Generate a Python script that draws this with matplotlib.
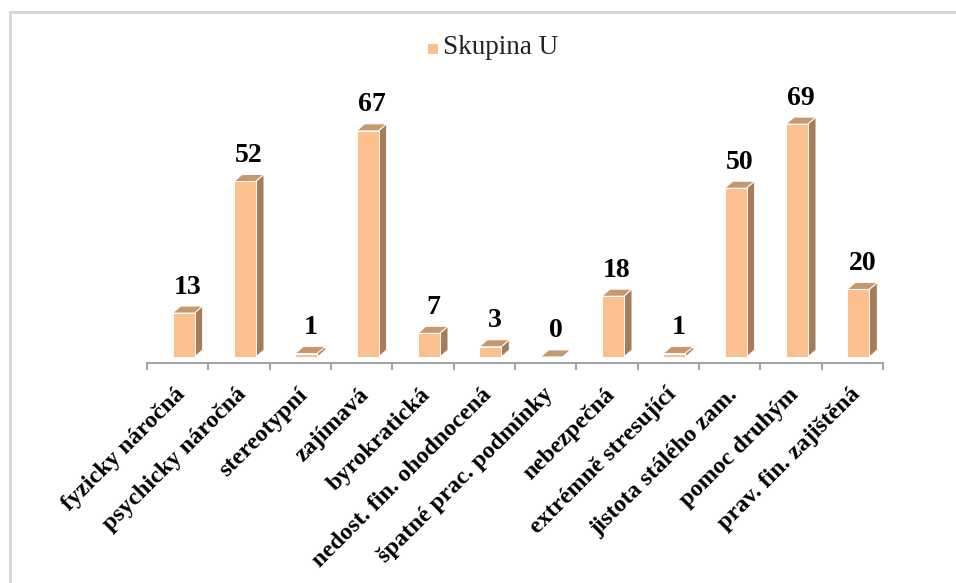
import matplotlib
matplotlib.use("Agg")
import matplotlib.pyplot as plt
from matplotlib.patches import Polygon, Rectangle
from matplotlib.lines import Line2D
from matplotlib.transforms import blended_transform_factory, offset_copy

categories = [
    "fyzicky náročná", "psychicky náročná", "stereotypní", "zajímavá",
    "byrokratická", "nedost. fin. ohodnocená", "špatné prac. podmínky",
    "nebezpečná", "extrémně stresující", "jistota stálého zam.",
    "pomoc druhým", "prav. fin. zajištěná",
]
values = [13, 52, 1, 67, 7, 3, 0, 18, 1, 50, 69, 20]
series_name = "Skupina U"

FRONT = "#FBC08E"
TOP = "#C8976E"
SIDE = "#A67D5C"
SERIF = ["Liberation Serif", "DejaVu Serif"]

W, H, DPI = 956, 583, 100
fig = plt.figure(figsize=(W / DPI, H / DPI), dpi=DPI)

# plot area in pixels
ax_l, ax_r, ax_b, ax_t = 147, 883, 363, 87
ax = fig.add_axes([ax_l / W, (H - ax_b) / H, (ax_r - ax_l) / W, (ax_b - ax_t) / H])
ymin, ymax = -1.8, 80
n = len(categories)
ax.set_xlim(0, n)
ax.set_ylim(ymin, ymax)

px_x = (ax_r - ax_l) / n            # pixels per category
px_y = (ax_b - ax_t) / (ymax - ymin)  # pixels per value unit

wf = 22 / px_x      # front face width
shift = 6 / px_x    # front face offset from category centre
dx = 8 / px_x       # depth offset (x)
dy = 7 / px_y       # depth offset (y)

for i, v in enumerate(values):
    x0 = i + 0.5 + shift - wf / 2
    x1 = x0 + wf
    top = Polygon([(x0, v), (x1, v), (x1 + dx, v + dy), (x0 + dx, v + dy)],
                  closed=True, facecolor=TOP, edgecolor="white", lw=0.7, zorder=3)
    ax.add_patch(top)
    if v > 0:
        side = Polygon([(x1, 0), (x1 + dx, dy), (x1 + dx, v + dy), (x1, v)],
                       closed=True, facecolor=SIDE, edgecolor="white", lw=0.7, zorder=3)
        front = Rectangle((x0, 0), wf, v, facecolor=FRONT, edgecolor="white",
                          lw=0.7, zorder=4)
        ax.add_patch(side)
        ax.add_patch(front)
    ax.text(x0 + (wf + dx) / 2, v + 26 / px_y, str(v), ha="center", va="center",
            fontsize=20, fontweight="bold", family=SERIF, color="black", zorder=5)

# category axis
for s in ["left", "right", "top"]:
    ax.spines[s].set_visible(False)
ax.spines["bottom"].set_color("#A6A6A6")
ax.spines["bottom"].set_linewidth(1.5)
ax.set_xticks(range(n + 1))
ax.set_xticklabels([])
ax.tick_params(axis="x", direction="out", length=5, width=1.5, color="#A6A6A6")
ax.set_yticks([])

trans = blended_transform_factory(ax.transData, ax.transAxes)
for i, c in enumerate(categories):
    t = offset_copy(trans, fig=fig, x=-3, y=-21, units="dots")
    ax.text(i + 0.5, 0, c, rotation=45, ha="right", va="top",
            rotation_mode="anchor", transform=t, fontsize=17.5,
            fontweight="bold", family=SERIF, color="black")

# legend
fig.add_artist(Rectangle((428 / W, 1 - 54 / H), 10 / W, 10 / H,
                         transform=fig.transFigure, facecolor=FRONT,
                         edgecolor="none"))
fig.text(443 / W, 1 - 48 / H, series_name, ha="left", va="center",
         fontsize=19.5, family=SERIF, color="#222222")

# chart frame
fig.add_artist(Line2D([9.5 / W, 9.5 / W], [0, 1 - 12 / H], transform=fig.transFigure,
                      color="#D9D9D9", lw=2.2))
fig.add_artist(Line2D([9.5 / W, 1], [1 - 12 / H, 1 - 12 / H], transform=fig.transFigure,
                      color="#D9D9D9", lw=2.2))

fig.savefig("out.png", dpi=DPI)
